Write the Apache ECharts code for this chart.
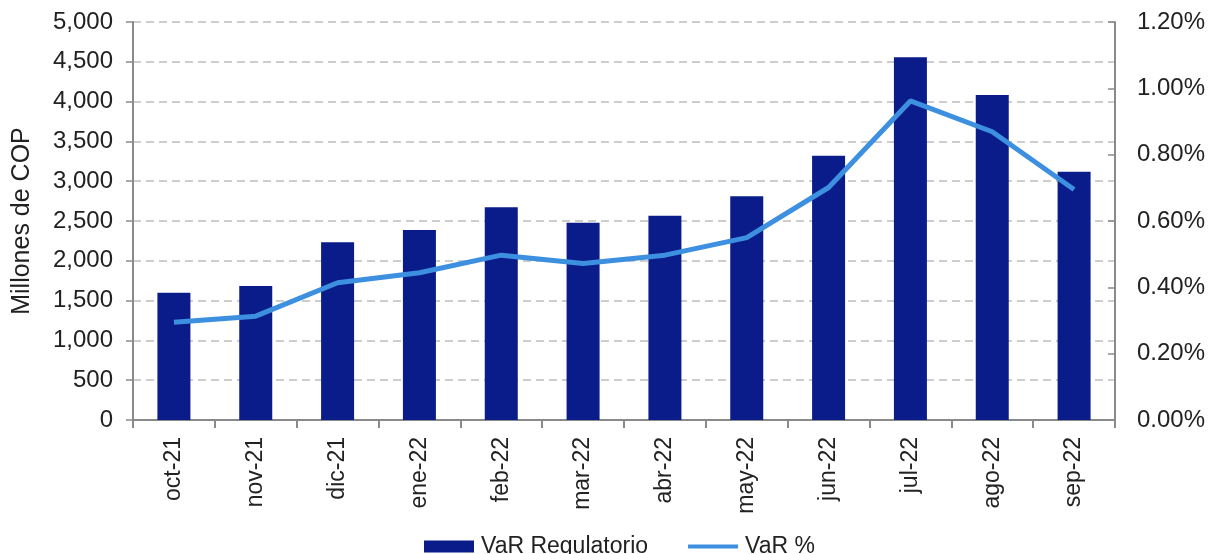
<!DOCTYPE html>
<html><head><meta charset="utf-8">
<script src="https://cdn.jsdelivr.net/npm/echarts@6/dist/echarts.min.js"></script>
<style>html,body{margin:0;padding:0;background:#fff}#c{width:1210px;height:554px}</style>
</head><body><div id="c"></div>
<script>
const categories = ['oct-21','nov-21','dic-21','ene-22','feb-22','mar-22','abr-22','may-22','jun-22','jul-22','ago-22','sep-22'];
const varRegulatorio = [1600, 1683, 2232, 2387, 2672, 2479, 2567, 2810, 3321, 4556, 4083, 3120];
const varPct = [0.295, 0.313, 0.414, 0.444, 0.497, 0.472, 0.497, 0.550, 0.701, 0.962, 0.869, 0.695];
const font = 'Liberation Sans, Arial, sans-serif';
const chart = echarts.init(document.getElementById('c'));
chart.setOption({
  animation: false,
  textStyle: {fontFamily: font},
  grid: {left: 133, right: 95, top: 22, bottom: 134},
  legend: {
    top: 530, left: 419, itemGap: 40, itemWidth: 50, itemHeight: 12,
    textStyle: {fontSize: 23, color: '#222', fontFamily: font, padding: [0,0,0,2]},
    data: [{name: 'VaR Regulatorio', icon: 'rect'}, {name: 'VaR %', icon: 'path://M0,4 L50,4 L50,8 L0,8 Z'}]
  },
  xAxis: {
    type: 'category', data: categories,
    axisLine: {lineStyle: {color: '#8a8a8a', width: 2}},
    axisTick: {show: true, length: 8, lineStyle: {color: '#8a8a8a', width: 2}},
    axisLabel: {rotate: 90, fontSize: 23, color: '#222', margin: 17, fontFamily: font}
  },
  yAxis: [{
    type: 'value', min: 0, max: 5000, interval: 500,
    name: 'Millones de COP', nameLocation: 'middle', nameGap: 98, nameRotate: 90,
    nameTextStyle: {fontSize: 25, color: '#222', fontFamily: font},
    axisLine: {show: true, lineStyle: {color: '#8a8a8a', width: 2}},
    axisTick: {show: true, length: 7, lineStyle: {color: '#8a8a8a', width: 1.5}},
    axisLabel: {fontSize: 24, color: '#222', margin: 20, fontFamily: font,
      formatter: v => v.toLocaleString('en-US')},
    splitLine: {show: true, lineStyle: {color: '#bdbdbd', type: [8, 5], width: 1.5}}
  }, {
    type: 'value', min: 0, max: 1.2, interval: 0.2, position: 'right',
    axisLine: {show: true, lineStyle: {color: '#8a8a8a', width: 2}},
    axisTick: {show: true, inside: true, length: 7, lineStyle: {color: '#8a8a8a', width: 1.5}},
    axisLabel: {fontSize: 24, color: '#222', margin: 22, fontFamily: font,
      formatter: v => v.toFixed(2) + '%'},
    splitLine: {show: false}
  }],
  series: [{
    name: 'VaR Regulatorio', type: 'bar', data: varRegulatorio, barWidth: 33,
    itemStyle: {color: '#0a1c8a'}
  }, {
    name: 'VaR %', type: 'line', yAxisIndex: 1, data: varPct,
    symbol: 'none', lineStyle: {color: '#3d8fdf', width: 5},
    itemStyle: {color: '#3d8fdf'}
  }]
});
</script></body></html>
